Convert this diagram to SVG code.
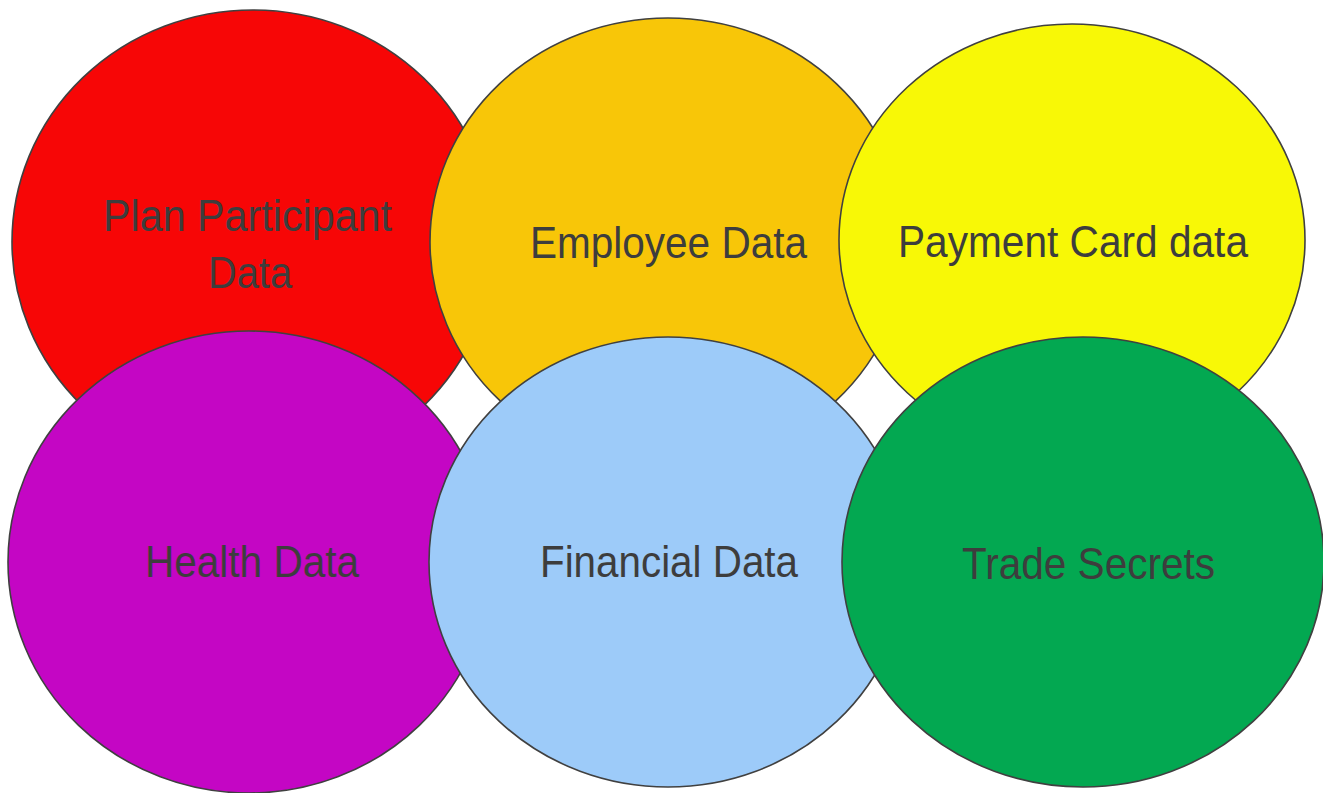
<svg xmlns="http://www.w3.org/2000/svg" width="1323" height="793" viewBox="0 0 1323 793">
  <style>
    .bubble { stroke: #404040; stroke-width: 1.6; }
    .label { font-family: "Liberation Sans", Arial, sans-serif; fill: #3d3d3d; font-size: 45px; }
  </style>
  <rect width="1323" height="793" fill="#ffffff"/>

  <!-- top row -->
  <g id="plan-participant-data">
    <ellipse class="bubble" cx="253" cy="242" rx="241" ry="232" fill="#f70606"/>
    <text class="label" x="103" y="231" font-size="43" textLength="289" lengthAdjust="spacingAndGlyphs">Plan Participant</text>
    <text class="label" x="208" y="288" font-size="43" textLength="84" lengthAdjust="spacingAndGlyphs">Data</text>
  </g>
  <g id="employee-data">
    <ellipse class="bubble" cx="668" cy="242" rx="238" ry="224" fill="#f8c608"/>
    <text class="label" x="530" y="258" font-size="48" textLength="277" lengthAdjust="spacingAndGlyphs">Employee Data</text>
  </g>
  <g id="payment-card-data">
    <ellipse class="bubble" cx="1072" cy="240" rx="233" ry="216" fill="#f8f806"/>
    <text class="label" x="898" y="257" textLength="350" lengthAdjust="spacingAndGlyphs">Payment Card data</text>
  </g>

  <!-- bottom row -->
  <g id="health-data">
    <ellipse class="bubble" cx="249" cy="562" rx="241" ry="231" fill="#c406c4"/>
    <text class="label" x="145" y="577" textLength="214" lengthAdjust="spacingAndGlyphs">Health Data</text>
  </g>
  <g id="financial-data">
    <ellipse class="bubble" cx="668" cy="562" rx="239" ry="225" fill="#9dcbf9"/>
    <text class="label" x="540" y="577" textLength="258" lengthAdjust="spacingAndGlyphs">Financial Data</text>
  </g>
  <g id="trade-secrets">
    <ellipse class="bubble" cx="1083" cy="562" rx="241" ry="225" fill="#03a851"/>
    <text class="label" x="962" y="579" textLength="253" lengthAdjust="spacingAndGlyphs">Trade Secrets</text>
  </g>

  <g id="connectors"/>
</svg>
